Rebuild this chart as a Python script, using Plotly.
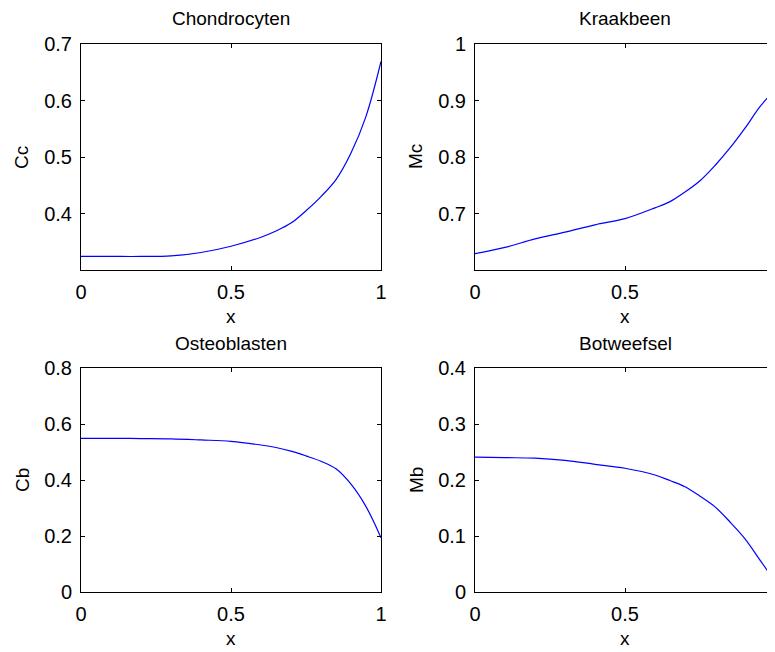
import plotly.graph_objects as go

x_vals = [0, 0.1, 0.2, 0.3, 0.4, 0.5, 0.6, 0.65, 0.7, 0.75, 0.8, 0.85, 0.9, 0.95, 1.0]
cc_vals = [0.324, 0.324, 0.324, 0.325, 0.331, 0.342, 0.358, 0.369, 0.383, 0.405, 0.430, 0.460, 0.507, 0.572, 0.669]
mc_vals = [0.629, 0.640, 0.655, 0.667, 0.680, 0.691, 0.710, 0.721, 0.738, 0.758, 0.785, 0.816, 0.851, 0.889, 0.919]
cb_vals = [0.549, 0.549, 0.548, 0.547, 0.543, 0.538, 0.525, 0.516, 0.503, 0.486, 0.467, 0.440, 0.385, 0.305, 0.194]
mb_vals = [0.241, 0.240, 0.239, 0.235, 0.228, 0.221, 0.209, 0.199, 0.188, 0.171, 0.152, 0.125, 0.095, 0.057, 0.019]

titles = ["Chondrocyten", "Kraakbeen", "Osteoblasten", "Botweefsel"]
ylabels = ["Cc", "Mc", "Cb", "Mb"]
x_ticks = [0, 0.5, 1]
x_ticktext = ["0", "0.5", "1"]
y_ranges = [[0.3, 0.7], [0.6, 1.0], [0, 0.8], [0, 0.4]]
y_ticks = [[0.4, 0.5, 0.6, 0.7], [0.7, 0.8, 0.9, 1.0], [0, 0.2, 0.4, 0.6, 0.8], [0, 0.1, 0.2, 0.3, 0.4]]
y_ticktext = [["0.4", "0.5", "0.6", "0.7"], ["0.7", "0.8", "0.9", "1"],
              ["0", "0.2", "0.4", "0.6", "0.8"], ["0", "0.1", "0.2", "0.3", "0.4"]]
series = [cc_vals, mc_vals, cb_vals, mb_vals]

OFF = 8  # page body margin
W, H = 775 - OFF, 652 - OFF
FONT = "Liberation Sans, Arial, sans-serif"
# pixel boxes in page coordinates (left, right, top, bottom)
boxes = [(81, 381, 44, 270), (475, 775, 44, 270), (81, 381, 368, 592), (475, 775, 368, 592)]

fig = go.Figure()
layout = dict(width=W, height=H, margin=dict(l=0, r=0, t=0, b=0, autoexpand=False),
              paper_bgcolor="white", plot_bgcolor="white", showlegend=False,
              font=dict(family=FONT, size=20, color="black"))
annotations = []
for i in range(4):
    xa = "xaxis" if i == 0 else f"xaxis{i+1}"
    ya = "yaxis" if i == 0 else f"yaxis{i+1}"
    xr = "x" if i == 0 else f"x{i+1}"
    yr = "y" if i == 0 else f"y{i+1}"
    l, r, t, b = [v - OFF for v in boxes[i]]
    fig.add_trace(go.Scatter(x=x_vals, y=series[i], mode="lines",
                             line=dict(color="#0000ff", width=1.2, shape="spline", smoothing=1.0),
                             xaxis=xr, yaxis=yr))
    common = dict(showline=True, linecolor="black", linewidth=1, mirror="ticks",
                  ticks="inside", ticklen=4, tickcolor="black", tickwidth=1,
                  showgrid=False, zeroline=False, automargin=False,
                  tickfont=dict(family=FONT, size=20, color="black"))
    layout[xa] = dict(common, domain=[l / W, min(r / W, 1.0)], range=[0, 1], anchor=yr,
                      tickvals=x_ticks, ticktext=x_ticktext, ticklabelstandoff=4)
    layout[ya] = dict(common, domain=[1 - b / H, 1 - t / H], range=y_ranges[i], anchor=xr,
                      tickvals=y_ticks[i], ticktext=y_ticktext[i], ticklabelstandoff=4)
    cx = (l + r) / 2
    annotations.append(dict(text=titles[i], x=cx / W, y=1 - (t - 25) / H, xref="paper", yref="paper",
                            showarrow=False, xanchor="center", yanchor="middle",
                            font=dict(family=FONT, size=19, color="black")))
    annotations.append(dict(text="x", x=cx / W, y=1 - (b + 46) / H, xref="paper", yref="paper",
                            showarrow=False, xanchor="center", yanchor="middle",
                            font=dict(family=FONT, size=19, color="black")))
    annotations.append(dict(text=ylabels[i], x=(l - 59) / W, y=1 - ((t + b) / 2) / H,
                            xref="paper", yref="paper", textangle=-90,
                            showarrow=False, xanchor="center", yanchor="middle",
                            font=dict(family=FONT, size=19, color="black")))
layout["annotations"] = annotations
fig.update_layout(**layout)
fig.write_html("out.html")
